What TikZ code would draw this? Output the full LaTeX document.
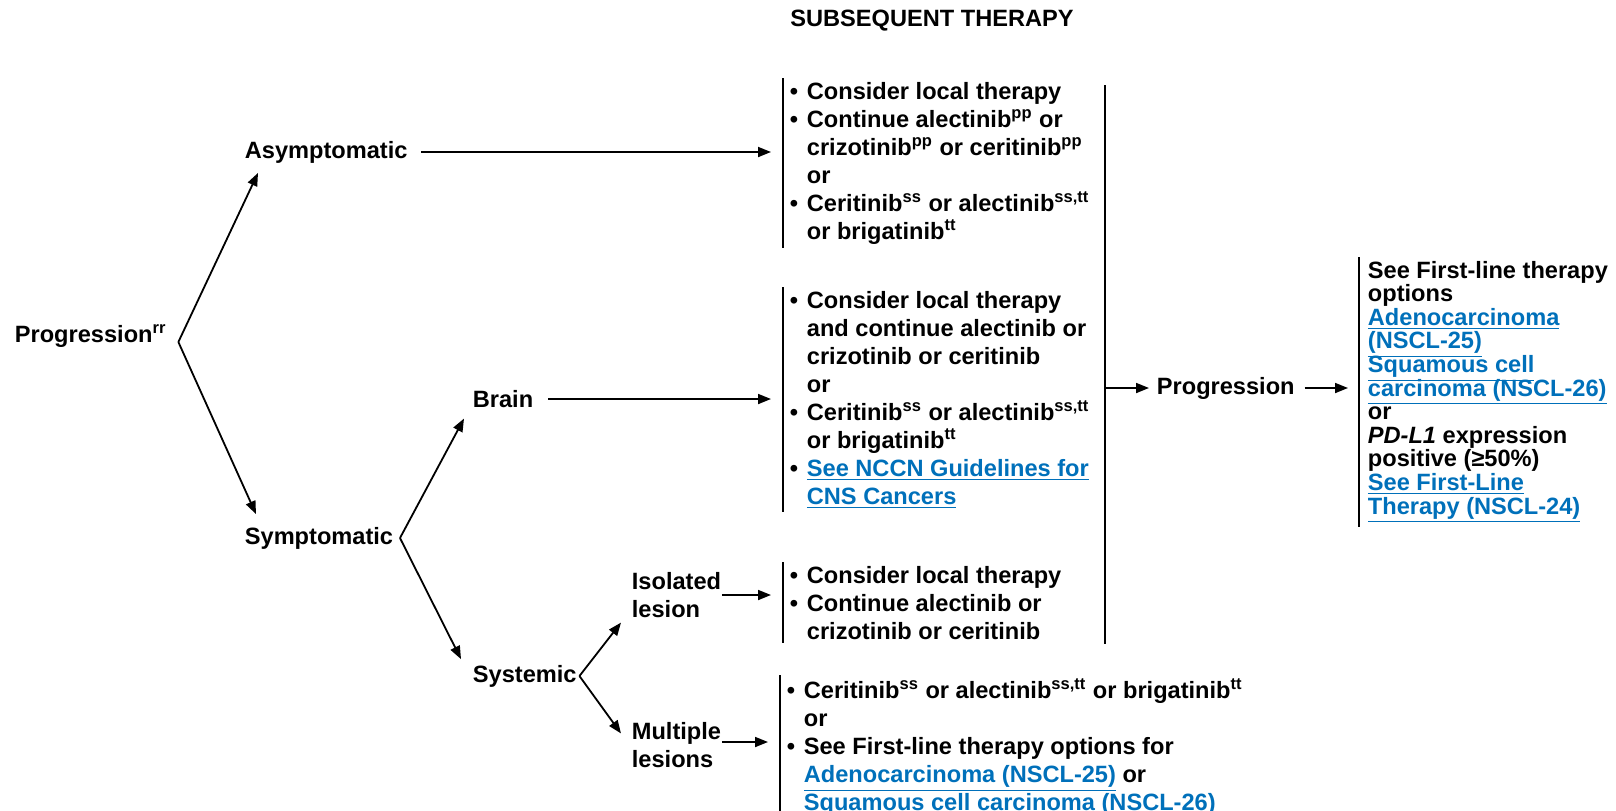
\documentclass[tikz,border=0pt]{standalone}
\usepackage{fontspec}
\setmainfont{Liberation Sans}
\usetikzlibrary{arrows.meta,calc}
\definecolor{linkblue}{RGB}{0,112,186}
\newcommand{\fnote}[1]{\textsuperscript{#1}}
\newcommand{\bul}{\makebox[0.72em][l]{\textbullet}}
\newcommand{\ind}{\hspace*{0.72em}}
\newcommand{\lnk}[1]{\textcolor{linkblue}{\underline{#1}}}
\newcommand{\tightlines}{\lineskiplimit=-20pt\relax\lineskip=0pt\relax}

\begin{document}
\begin{tikzpicture}[x=0.5pt, y=-0.5pt, line width=0.9pt,
    >={Triangle[length=6.5pt,width=5pt]},
    every node/.style={font=\fontsize{11.8}{14}\selectfont\bfseries, inner sep=0pt},
    lbl/.style={anchor=west, align=left},
    opts/.style={anchor=north west, align=left, inner xsep=3pt, inner ysep=1.5pt}]
    \useasboundingbox (0,0) rectangle (1616,810);

    \node (title) at (932,21) {SUBSEQUENT THERAPY};

    % decision tree on the left
    \node[lbl] (prog) at (14,336) {Progression\fnote{rr}};
    \node[lbl] (asym) at (244,152) {Asymptomatic};
    \node[lbl] (symp) at (244,538) {Symptomatic};
    \node[lbl] (brain) at (472,399) {Brain};
    \node[lbl] (syst) at (472,676) {Systemic};
    \node[lbl] (iso) at (631,595) {Isolated\\lesion};
    \node[lbl] (mult) at (631,745) {Multiple\\lesions};

    \coordinate (pv) at ($(prog.east)+(11,6)$);
    \coordinate (sv) at ($(symp.east)+(6,0)$);
    \coordinate (yv) at ($(syst.east)+(2,0)$);

    % therapy options
    \node[opts] (b1) at (783,78) {\bul Consider local therapy\\
        \bul Continue alectinib\fnote{pp} or\\
        \ind crizotinib\fnote{pp} or ceritinib\fnote{pp}\\
        \ind or\\
        \bul Ceritinib\fnote{ss} or alectinib\fnote{ss,tt}\\
        \ind or brigatinib\fnote{tt}};
    \node[opts] (b2) at (783,287) {\bul Consider local therapy\\
        \ind and continue alectinib or\\
        \ind crizotinib or ceritinib\\
        \ind or\\
        \bul Ceritinib\fnote{ss} or alectinib\fnote{ss,tt}\\
        \ind or brigatinib\fnote{tt}\\
        \bul \lnk{See NCCN Guidelines for}\\
        \ind \lnk{CNS Cancers}};
    \node[opts] (b3) at (783,562) {\bul Consider local therapy\\
        \bul Continue alectinib or\\
        \ind crizotinib or ceritinib};
    \node[opts] (b4) at (780,675) {\bul Ceritinib\fnote{ss} or alectinib\fnote{ss,tt} or brigatinib\fnote{tt}\\
        \ind or\\
        \bul See First-line therapy options for\\
        \ind \lnk{Adenocarcinoma (NSCL-25)} or\\
        \ind \lnk{Squamous cell carcinoma (NSCL-26)}};

    \coordinate (bt) at (1105,85);
    \coordinate (bb) at (1105,644);
    \node[lbl] (prog2) at (1156,388) {Progression};
    \node[opts, inner xsep=4pt,
        font=\fontsize{11.8}{11.8}\selectfont\bfseries\tightlines]
        (b5) at (1359,257) {See First-line therapy\\
        options\\
        \lnk{Adenocarcinoma}\\
        \lnk{(NSCL-25)}\\
        \lnk{Squamous cell}\\
        \lnk{carcinoma (NSCL-26)}\\
        or\\
        \textit{PD-L1} expression\\
        positive (≥50\%)\\
        \lnk{See First-Line}\\
        \lnk{Therapy (NSCL-24)}};

    \foreach \b in {b1,b2,b3,b4,b5}
        \draw (\b.north west) -- (\b.south west);

    \draw[->] (pv) -- ($(asym.south west)+(14,9)$);
    \draw[->] (pv) -- ($(symp.north west)+(12,-12)$);
    \draw[->] (sv) -- ($(brain.south west)+(-8,10)$);
    \draw[->] (sv) -- ($(syst.north west)+(-11,-5)$);
    \draw[->] (yv) -- ($(iso.south west)+(-10,4)$);
    \draw[->] (yv) -- ($(mult.north west)+(-10,12)$);

    \draw[->] ([xshift=6.5pt]asym.east) -- ([xshift=-6pt]asym.east -| b1.west);
    \draw[->] ([xshift=7pt]brain.east) -- ([xshift=-6pt]brain.east -| b2.west);
    \draw[->] (iso.east) -- ([xshift=-6pt]iso.east -| b3.west);
    \draw[->] ([yshift=1.5pt]mult.east) -- ([xshift=-6pt,yshift=1.5pt]mult.east -| b4.west);

    \draw (bt) -- (bb);
    \draw[->] (prog2.west -| bt) -- ([xshift=-3.5pt]prog2.west);
    \draw[->] ([xshift=4.5pt]prog2.east) -- ([xshift=-5.5pt]prog2.east -| b5.west);
\end{tikzpicture}
\end{document}
